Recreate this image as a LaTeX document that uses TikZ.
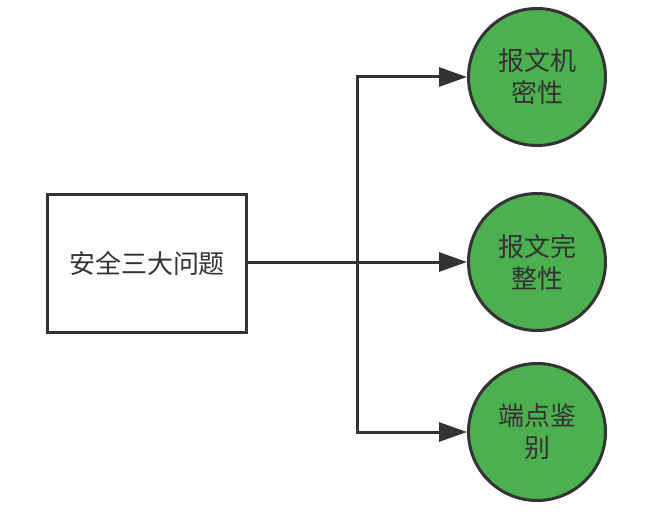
\documentclass[tikz,border=0pt]{standalone}
\usepackage{fontspec}
\usepackage{xcolor}
\usepackage{tikz}
\usetikzlibrary{arrows.meta}
\newfontfamily\cjk{Noto Sans CJK SC}
\definecolor{linegray}{HTML}{333333}
\definecolor{topicgreen}{HTML}{4CAF50}

\begin{document}
\begin{tikzpicture}[x=1pt, y=-1pt,
        every node/.style={font=\cjk\fontsize{26}{32}\selectfont, text=linegray, align=center},
        topic/.style={circle, draw=linegray, line width=3pt, fill=topicgreen, minimum size=137pt, inner sep=0pt},
        mainbox/.style={rectangle, draw=linegray, line width=3pt, fill=white, minimum width=199pt, minimum height=138pt},
        link/.style={draw=linegray, line width=3pt},
        tip/.style={-{Triangle[length=28pt, width=19pt]}}]
        \useasboundingbox (0,0) rectangle (646,527);

        % Main box
        \node[mainbox] (problem) at (147,263) {安全三大问题};

        % Topics
        \node[topic] (secret) at (537,77) {报文机\\密性};
        \node[topic] (whole) at (537,262) {报文完\\整性};
        \node[topic] (auth) at (537,432) {端点鉴\\别};

        % Links
        \coordinate (split) at (357,262);
        \draw[link, tip] (problem.east |- whole.west) -- (whole.west);
        \foreach \t in {secret,auth}
            \draw[link, tip] (split) |- (\t.west);
    \end{tikzpicture}
\end{document}
